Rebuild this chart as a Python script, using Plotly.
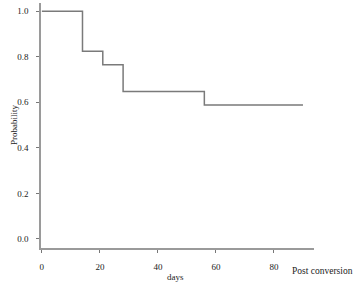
import plotly.graph_objects as go

days = [0, 14, 21, 28, 56, 90]
prob = [1.0, 0.824, 0.765, 0.647, 0.588, 0.588]
xticks = [0, 20, 40, 60, 80]
yticks = [0.0, 0.2, 0.4, 0.6, 0.8, 1.0]

W, H = 363, 287
L, R, T, B = 41, 314, 3, 248

def px(x):
    return (x - L) / (R - L)

def py(y):
    return (B - y) / (B - T)

font = dict(family="Liberation Serif", size=9, color="#222")

fig = go.Figure()
fig.add_trace(go.Scatter(x=days, y=prob, mode="lines", line=dict(shape="hv", color="#7a7a7a", width=1.5),
                         hoverinfo="skip", showlegend=False))
fig.update_layout(
    width=W, height=H, margin=dict(l=L, r=W - R, t=T, b=H - B),
    paper_bgcolor="white", plot_bgcolor="white", font=font,
    xaxis=dict(range=[-0.3, 93.8], tickvals=xticks, ticktext=[str(v) for v in xticks],
               showgrid=False, zeroline=False, showline=True, linecolor="#9a9a9a", linewidth=1.5,
               ticks="outside", ticklen=3, tickcolor="#777", tickfont=font, ticklabelstandoff=6),
    yaxis=dict(range=[-0.04, 1.036], tickvals=yticks, ticktext=[f"{v:.1f}" for v in yticks],
               showgrid=False, zeroline=False, showline=True, linecolor="#9a9a9a", linewidth=1.5,
               ticks="outside", ticklen=3, tickcolor="#777", tickfont=font, ticklabelstandoff=6),
    annotations=[
        dict(text="Probability", x=px(14), y=py(125), xref="paper", yref="paper", textangle=-90,
             showarrow=False, font=font, xanchor="center", yanchor="middle"),
        dict(text="days", x=px(175), y=py(277), xref="paper", yref="paper",
             showarrow=False, font=font, xanchor="center", yanchor="middle"),
        dict(text="Post conversion", x=px(322), y=py(271), xref="paper", yref="paper",
             showarrow=False, font=dict(family="Liberation Serif", size=9.5, color="#222"),
             xanchor="center", yanchor="middle"),
    ],
)
fig.write_html("out.html")
